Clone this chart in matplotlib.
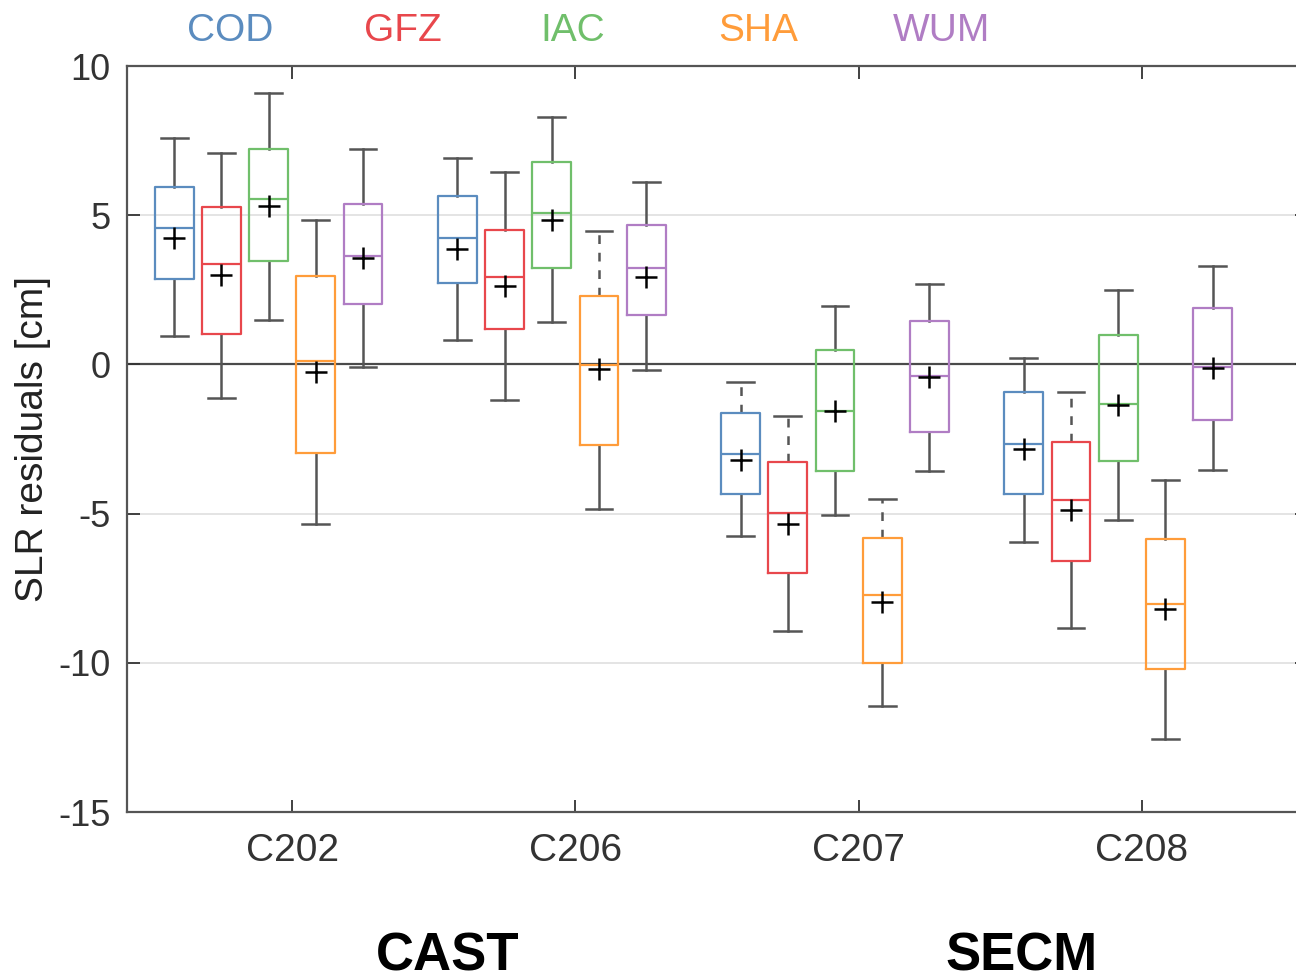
import matplotlib.pyplot as plt
import numpy as np

plt.rcParams['font.family'] = ['Liberation Sans', 'DejaVu Sans']

# ---- data (cm), one row per satellite, one value per analysis center ----
satellites = ['C202', 'C206', 'C207', 'C208']
centers = ['COD', 'GFZ', 'IAC', 'SHA', 'WUM']
colors = ['#5b8cbf', '#e8474c', '#70bf6b', '#ff9c3a', '#b07dc4']

whislo = [[0.95, -1.11, 1.49, -5.36, -0.10],
          [0.83, -1.20, 1.43, -4.86, -0.20],
          [-5.76, -8.92, -5.06, -11.46, -3.57],
          [-5.95, -8.84, -5.22, -12.55, -3.55]]
q1 = [[2.86, 1.03, 3.48, -2.97, 2.01],
      [2.73, 1.17, 3.23, -2.71, 1.65],
      [-4.34, -7.00, -3.58, -9.99, -2.25],
      [-4.35, -6.60, -3.23, -10.22, -1.88]]
med = [[4.57, 3.36, 5.54, 0.13, 3.64],
       [4.25, 2.93, 5.09, -0.02, 3.23],
       [-2.99, -4.98, -1.57, -7.73, -0.39],
       [-2.66, -4.56, -1.33, -8.02, -0.09]]
q3 = [[5.93, 5.27, 7.21, 2.95, 5.37],
      [5.65, 4.51, 6.77, 2.28, 4.67],
      [-1.64, -3.27, 0.47, -5.83, 1.45],
      [-0.92, -2.61, 0.98, -5.85, 1.90]]
whishi = [[7.60, 7.07, 9.09, 4.84, 7.21],
          [6.91, 6.46, 8.28, 4.48, 6.12],
          [-0.60, -1.73, 1.96, -4.51, 2.70],
          [0.22, -0.93, 2.49, -3.86, 3.30]]
means = [[4.25, 2.99, 5.31, -0.26, 3.56],
         [3.88, 2.63, 4.84, -0.17, 2.94],
         [-3.19, -5.34, -1.57, -7.97, -0.41],
         [-2.85, -4.87, -1.36, -8.20, -0.11]]
# upper whisker drawn dashed
dashed_hi = [[0, 0, 0, 0, 0],
             [0, 0, 0, 1, 0],
             [1, 1, 0, 1, 0],
             [0, 1, 0, 0, 0]]

fig = plt.figure(figsize=(12.96, 9.8), dpi=100)
ax = fig.add_axes([127/1296, 1 - 812/980, (1307 - 127)/1296, (812 - 66)/980])

# light grid + zero line
for yv in [-10, -5, 5]:
    ax.axhline(yv, color='#e2e2e2', lw=1.3, zorder=0)
ax.axhline(0, color='#4a4a4a', lw=1.6, zorder=1)

wcol = '#555555'
for i in range(len(satellites)):
    for j in range(len(centers)):
        pos = i + 1 + (j - 2.5) / 6
        st = [dict(whislo=whislo[i][j], q1=q1[i][j], med=med[i][j],
                   q3=q3[i][j], whishi=whishi[i][j], fliers=[])]
        bp = ax.bxp(st, positions=[pos], widths=0.137, showfliers=False,
                    capwidths=0.095, manage_ticks=False,
                    boxprops=dict(color=colors[j], lw=1.6),
                    medianprops=dict(color=colors[j], lw=1.6),
                    whiskerprops=dict(color=wcol, lw=1.8),
                    capprops=dict(color=wcol, lw=1.8))
        for b in bp['boxes']:
            b.set_zorder(3)
        for m in bp['medians']:
            m.set_zorder(3)
        if dashed_hi[i][j]:
            bp['whiskers'][1].set_linestyle((0, (3.5, 3.5)))
        ax.plot(pos, means[i][j], marker='+', color='black',
                markersize=16, mew=1.8, zorder=4)

ax.set_xlim(0.4167, 4.5833)
ax.set_ylim(-15, 10)
ax.set_xticks(range(1, len(satellites) + 1))
ax.set_xticklabels(satellites)
ax.set_yticks([-15, -10, -5, 0, 5, 10])
ax.set_yticklabels(['-15', '-10', '-5', '0', '5', '10'])
ax.tick_params(direction='in', length=9, width=1.3, colors='#333333',
               labelsize=26, top=True, right=True)
ax.tick_params(axis='x', pad=15, labelsize=28)
ax.tick_params(axis='y', pad=12)
for sp in ax.spines.values():
    sp.set_color('#555555')
    sp.set_linewidth(1.6)

ax.set_ylabel('SLR residuals [cm]', fontsize=28, color='#222222')
ax.yaxis.set_label_coords(-0.064, 0.5)

# legend row at top
legend_x = [230, 403, 573, 758, 942]
for name, c, xp in zip(centers, colors, legend_x):
    fig.text(xp / 1296, 1 - 31 / 980, name, color=c, fontsize=28,
             ha='center', va='center')

# group labels
fig.text(448 / 1296, 1 - 970 / 980, 'CAST', fontsize=38, fontweight='bold',
         ha='center', va='baseline')
fig.text(1022 / 1296, 1 - 970 / 980, 'SECM', fontsize=38, fontweight='bold',
         ha='center', va='baseline')

fig.savefig('out.png', dpi=100)
